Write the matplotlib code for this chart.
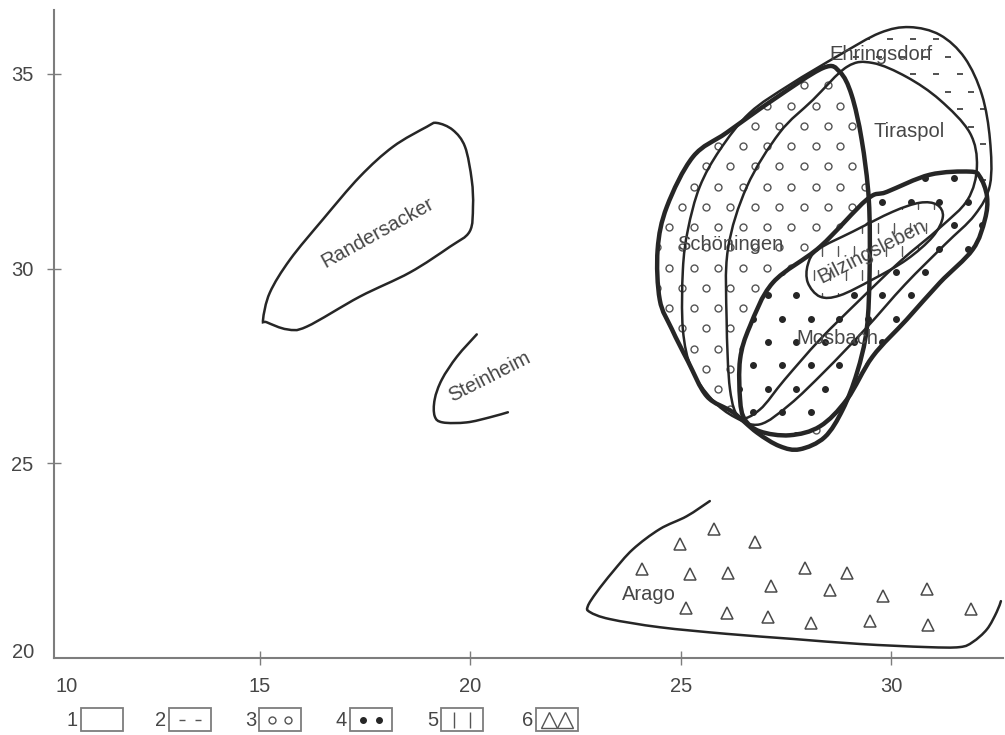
import numpy as np
import matplotlib
matplotlib.use('Agg')
import matplotlib.pyplot as plt
from matplotlib.path import Path
from matplotlib.patches import PathPatch, Rectangle

plt.rcParams['font.family'] = ['Liberation Sans', 'DejaVu Sans']

INK = '#262626'
GREY = '#7d7d7d'
TEXT = '#464646'

# outlines of the fields (x, y in axis units)
randersacker_x = [15.07, 15.23, 15.71, 16.49, 17.37, 18.16, 18.96, 19.20, 19.58, 19.87,
                  20.03, 20.06, 19.98, 19.51, 18.56, 17.37, 16.11, 15.64, 15.16]
randersacker_y = [28.69, 29.38, 30.23, 31.26, 32.36, 33.13, 33.64, 33.74, 33.56, 33.13,
                  32.28, 31.59, 30.95, 30.56, 29.90, 29.28, 28.51, 28.44, 28.62]

steinheim_x = [20.15, 19.68, 19.32, 19.15, 19.15, 19.34, 19.91, 20.46, 20.89]
steinheim_y = [28.31, 27.74, 27.15, 26.64, 26.21, 26.05, 26.05, 26.18, 26.31]

arago_x = [25.69, 25.14, 24.50, 23.86, 23.38, 23.00, 22.79, 22.84, 23.31, 24.50,
           26.09, 27.66, 29.26, 30.85, 31.63, 31.94, 32.28, 32.51, 32.61]
arago_y = [24.03, 23.64, 23.31, 22.79, 22.21, 21.69, 21.33, 21.18, 21.00, 20.79,
           20.62, 20.49, 20.36, 20.28, 20.28, 20.41, 20.74, 21.18, 21.46]

# Arago specimens (triangles)
arago_pts_x = [25.79, 24.98, 26.76, 24.07, 25.22, 26.12, 27.95, 28.95, 27.14, 28.54,
               29.80, 30.85, 25.12, 26.09, 27.07, 28.09, 29.49, 30.87, 31.89]
arago_pts_y = [23.31, 22.92, 22.97, 22.28, 22.15, 22.18, 22.31, 22.18, 21.85, 21.74,
               21.59, 21.77, 21.28, 21.15, 21.05, 20.90, 20.95, 20.85, 21.26]

schoeningen_x = [24.50, 24.45, 24.67, 25.29, 26.09, 27.19, 28.38, 28.78, 29.06, 29.30,
                 29.47, 29.49, 29.42, 29.19, 28.85, 28.42, 27.83, 27.35, 26.81, 26.24,
                 25.62, 25.17, 24.79]
schoeningen_y = [29.20, 30.49, 31.59, 32.87, 33.49, 34.33, 35.15, 35.05, 34.46, 33.31,
                 31.77, 29.97, 28.44, 27.33, 26.38, 25.67, 25.36, 25.44, 25.79, 26.31,
                 26.72, 27.62, 28.44]

ehringsdorf_x = [25.05, 25.05, 25.17, 25.45, 25.93, 26.64, 27.59, 28.78, 29.73, 30.44,
                 31.16, 31.75, 32.16, 32.35, 32.35, 31.99, 31.28, 30.33, 29.38, 28.42,
                 27.59, 26.88, 26.29, 25.74, 25.26]
ehringsdorf_y = [28.44, 29.97, 31.00, 32.10, 33.05, 34.00, 34.72, 35.49, 36.05, 36.20,
                 36.00, 35.41, 34.46, 33.31, 32.15, 31.38, 30.62, 29.59, 28.44, 27.36,
                 26.51, 26.00, 26.18, 26.64, 27.41]

tiraspol_x = [26.17, 26.09, 26.12, 26.57, 27.35, 28.14, 28.95, 29.56, 30.37, 31.16,
              31.87, 32.04, 31.82, 31.16, 30.21, 29.26, 28.31, 27.47, 26.88, 26.40]
tiraspol_y = [26.90, 28.69, 30.49, 32.10, 33.49, 34.33, 35.18, 35.28, 34.92, 34.33,
              33.49, 32.62, 31.77, 31.05, 30.18, 29.20, 28.18, 27.15, 26.38, 26.18]

mosbach_x = [26.41, 26.41, 26.64, 27.19, 28.31, 29.42, 29.90, 30.92, 31.87, 32.11,
             32.28, 32.23, 31.94, 31.16, 30.37, 29.56, 28.95, 28.31, 27.59, 26.88, 26.52]
mosbach_y = [26.64, 27.67, 28.51, 29.64, 30.56, 31.77, 31.97, 32.41, 32.49, 32.36,
             31.85, 31.26, 30.49, 29.64, 28.69, 27.74, 26.64, 25.95, 25.72, 25.82, 26.13]

bilzingsleben_x = [28.02, 28.26, 29.09, 30.04, 30.68, 31.09, 31.23, 30.99, 30.37, 29.56,
                   28.78, 28.31, 28.02]
bilzingsleben_y = [30.10, 30.49, 30.95, 31.46, 31.69, 31.64, 31.33, 30.82, 30.23, 29.72,
                   29.31, 29.28, 29.64]

label_names = ['Randersacker', 'Steinheim', 'Ehringsdorf', 'Tiraspol', 'Schöningen',
               'Bilzingsleben', 'Mosbach', 'Arago']
label_x = [17.80, 20.46, 29.75, 30.42, 26.17, 29.54, 28.73, 24.25]
label_y = [30.92, 27.21, 35.49, 33.51, 30.62, 30.44, 28.21, 21.64]
label_rot = [29, 27, 0, 0, 0, 27, 0, 0]

x_ticks = [15, 20, 25, 30]
y_ticks = [25, 30, 35]
legend_numbers = ['1', '2', '3', '4', '5', '6']


def smooth_path(xs, ys, closed=True):
    """Smooth curve through the outline vertices (Catmull-Rom as cubic Beziers)."""
    p = np.column_stack([xs, ys]).astype(float)
    n = len(p)
    if closed:
        pts = [p[i % n] for i in range(-1, n + 2)]
        nseg = n
    else:
        pts = [p[0]] + list(p) + [p[-1]]
        nseg = n - 1
    verts = [p[0]]
    codes = [Path.MOVETO]
    for i in range(nseg):
        p0, p1, p2, p3 = pts[i], pts[i + 1], pts[i + 2], pts[i + 3]
        verts += [p1 + (p2 - p0) / 6, p2 - (p3 - p1) / 6, p2]
        codes += [Path.CURVE4] * 3
    if closed:
        verts.append(p[0])
        codes.append(Path.CLOSEPOLY)
    return Path(verts, codes)


def texture(ax, patch, step, z, **kw):
    """Hatch-like pattern of small marks, clipped to a field."""
    ext = patch.get_path().get_extents()
    gx, gy = np.meshgrid(np.arange(ext.x0, ext.x1 + step[0], step[0]),
                         np.arange(ext.y0, ext.y1 + step[1], step[1]))
    gx[1::2] += step[0] / 2
    line, = ax.plot(gx.ravel(), gy.ravel(), ls='none', zorder=z, **kw)
    line.set_clip_path(patch)


fig = plt.figure(figsize=(10.05, 7.35), dpi=100)
ax = fig.add_axes([54 / 1005, 77 / 735, 949 / 1005, 648 / 735])
ax.set_xlim(10.1, 32.66)
ax.set_ylim(20, 36.64)

for side in ['top', 'right']:
    ax.spines[side].set_visible(False)
for side in ['left', 'bottom']:
    ax.spines[side].set_color(GREY)
    ax.spines[side].set_linewidth(1.5)

ax.set_xticks(x_ticks)
ax.set_yticks(y_ticks)
ax.tick_params(direction='inout', length=10, width=1, color=GREY,
               labelsize=14.5, labelcolor=TEXT)
ax.tick_params(axis='x', pad=9)
ax.tick_params(axis='y', pad=10)
fig.text(67 / 1005, 1 - 686 / 735, '10', ha='center', va='center', fontsize=14.5, color=TEXT)
fig.text(23 / 1005, 1 - 652 / 735, '20', ha='center', va='center', fontsize=14.5, color=TEXT)

# filled fields, back to front
fields = {
    'ehringsdorf': (ehringsdorf_x, ehringsdorf_y, 1.8),
    'tiraspol': (tiraspol_x, tiraspol_y, 1.8),
    'schoeningen': (schoeningen_x, schoeningen_y, 3.2),
    'mosbach': (mosbach_x, mosbach_y, 3.2),
    'bilzingsleben': (bilzingsleben_x, bilzingsleben_y, 1.8),
}
patches = {}
for i, (name, (xs, ys, lw)) in enumerate(fields.items()):
    fill = PathPatch(smooth_path(xs, ys), facecolor='white', edgecolor='none', zorder=1 + i)
    ax.add_patch(fill)
    patches[name] = fill

texture(ax, patches['ehringsdorf'], (0.55, 0.45), 1.5, marker='_', ms=5, mew=1.1, color='#555555')
texture(ax, patches['schoeningen'], (0.58, 0.52), 3.5, marker='o', ms=5,
        mfc='white', mec='#555555', mew=1)
texture(ax, patches['mosbach'], (0.68, 0.6), 4.5, marker='o', ms=4, mfc=INK, mec=INK)
texture(ax, patches['bilzingsleben'], (0.38, 0.6), 5.5, marker='|', ms=7, mew=1,
        color='#555555')

for name, (xs, ys, lw) in fields.items():
    ax.add_patch(PathPatch(smooth_path(xs, ys), facecolor='none', edgecolor=INK,
                           lw=lw, zorder=8, joinstyle='round'))

ax.add_patch(PathPatch(smooth_path(randersacker_x, randersacker_y), facecolor='none',
                       edgecolor=INK, lw=1.8, zorder=8))
ax.add_patch(PathPatch(smooth_path(steinheim_x, steinheim_y, closed=False), facecolor='none',
                       edgecolor=INK, lw=1.8, zorder=8, capstyle='round'))
ax.add_patch(PathPatch(smooth_path(arago_x, arago_y, closed=False), facecolor='none',
                       edgecolor=INK, lw=1.8, zorder=8, capstyle='round'))
ax.plot(arago_pts_x, arago_pts_y, ls='none', marker='^', ms=8.5, mfc='none',
        mec='#4a4a4a', mew=1.1, zorder=8)

for name, x, y, rot in zip(label_names, label_x, label_y, label_rot):
    ax.text(x, y, name, ha='center', va='center', rotation=rot, rotation_mode='anchor',
            fontsize=14.5, color=TEXT, zorder=10)

# legend row under the axis (pixel coordinates)
leg = fig.add_axes([0, 0, 1, 1])
leg.set_xlim(0, 1005)
leg.set_ylim(735, 0)
leg.axis('off')
box_left = [81, 169, 259, 350, 441, 536]
box_w, box_top, box_h = 42, 708, 23
mark_style = [
    None,
    dict(marker='_', ms=5, mew=1, color='#555555'),
    dict(marker='o', ms=5, mfc='white', mec='#555555', mew=1),
    dict(marker='o', ms=4, mfc=INK, mec=INK),
    dict(marker='|', ms=11, mew=1, color='#555555'),
    dict(marker='^', ms=12, mfc='none', mec='#555555', mew=1),
]
for num, x0, style in zip(legend_numbers, box_left, mark_style):
    leg.add_patch(Rectangle((x0, box_top), box_w, box_h, facecolor='none',
                            edgecolor=GREY, lw=1.3))
    leg.text(x0 - 3, box_top + box_h / 2 + 1, num, ha='right', va='center',
             fontsize=14.5, color=TEXT)
    if style is not None:
        leg.plot([x0 + 13, x0 + 29], [box_top + box_h / 2] * 2, ls='none', **style)

fig.savefig('out.png', dpi=100)
